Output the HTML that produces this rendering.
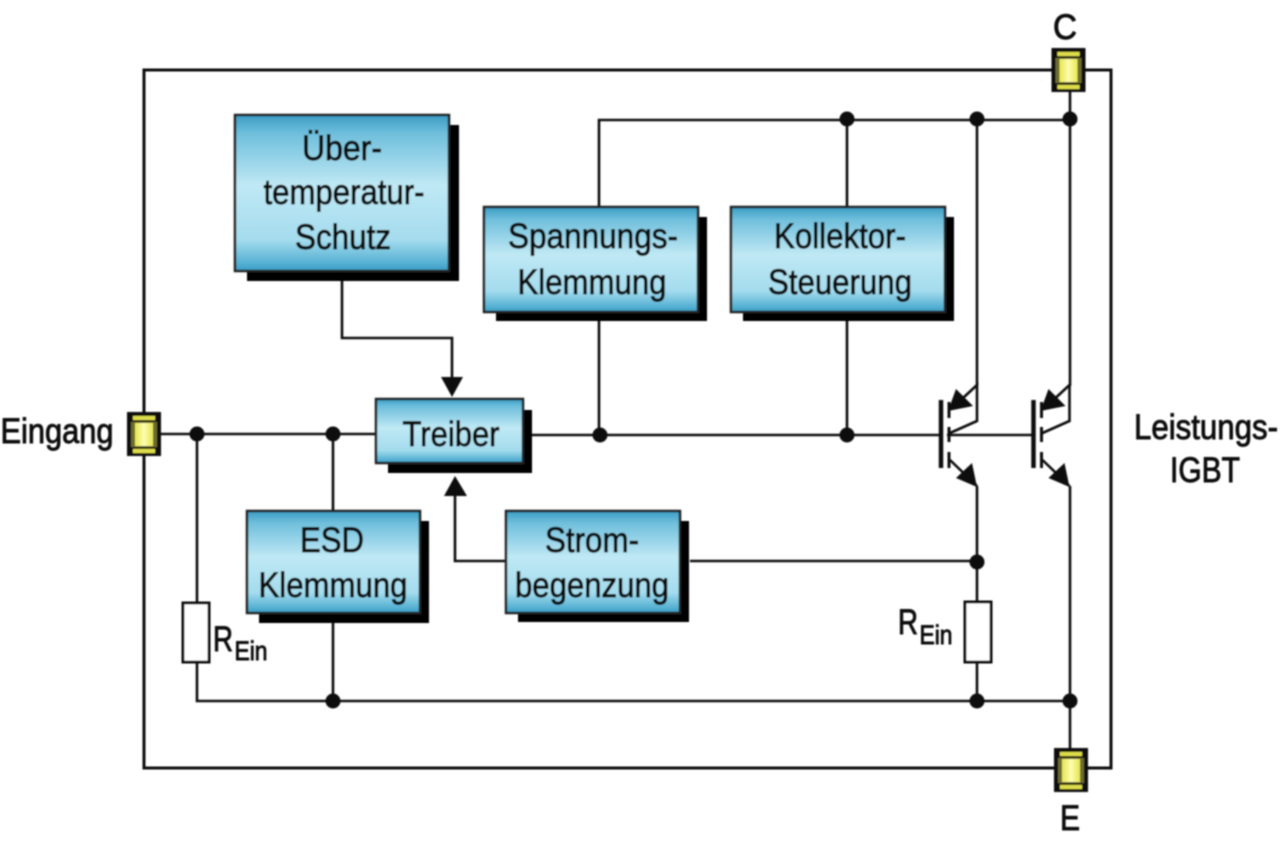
<!DOCTYPE html>
<html><head><meta charset="utf-8"><style>
html,body{margin:0;padding:0;background:#fff;width:1280px;height:844px;overflow:hidden}
svg{display:block}
text{font-family:"Liberation Sans",sans-serif;font-size:35px;fill:#111;stroke:#111;stroke-width:0.9px;text-anchor:middle}
</style></head><body>
<svg width="1280" height="844" viewBox="0 0 1280 844" xmlns="http://www.w3.org/2000/svg">
<defs>
<linearGradient id="g" x1="0" y1="0" x2="0" y2="1">
<stop offset="0" stop-color="#3a9cc4"/><stop offset="0.12" stop-color="#6fbfdc"/><stop offset="0.45" stop-color="#bfe8f4"/><stop offset="0.8" stop-color="#a4dcee"/><stop offset="0.95" stop-color="#55b0d2"/><stop offset="1" stop-color="#3a9cc4"/>
</linearGradient>
<linearGradient id="y" x1="0" y1="0" x2="1" y2="0">
<stop offset="0" stop-color="#e6e650"/><stop offset="0.5" stop-color="#fdfdb0"/><stop offset="1" stop-color="#e6e650"/>
</linearGradient>
<filter id="b" x="-5%" y="-5%" width="110%" height="110%"><feGaussianBlur stdDeviation="0.75"/></filter>
<g id="pad">
<rect x="-17" y="-22" width="34" height="44" fill="#111"/>
<rect x="-13" y="-12" width="26" height="25" fill="#6b6b30"/>
<rect x="-11" y="-18" width="22" height="4" fill="#dede4c"/>
<rect x="-11" y="15" width="22" height="4" fill="#dede4c"/>
<rect x="-9" y="-11" width="18" height="23" fill="url(#y)"/>
</g>
<g id="igbt">
<path d="M0 -35V33" stroke="#111" stroke-width="4.5" fill="none"/>
<path d="M8 -33V-17M8 -8V7M8 17V33" stroke="#111" stroke-width="3" fill="none"/>
<path d="M9 -2L36 -14V-50L22 -37M9 25L36 51" stroke="#111" stroke-width="2.6" fill="none"/>
<path d="M7 -24L32 -29L15 -46Z" fill="#111"/>
<path d="M36 52L15 43L31 28Z" fill="#111"/>
</g>
</defs>
<g filter="url(#b)">
<g fill="none" stroke="#111" stroke-width="3">
<path d="M1111 70H144V768H1111Z"/>
</g>
<g fill="none" stroke="#111" stroke-width="2.6">
<path d="M160 434H376M528 435H940"/>
<path d="M197 434V603M197 662V701H1070"/>
<path d="M333 434V511M333 620V701"/>
<path d="M599 207V120H1070M599 318V435"/>
<path d="M847 120V207M847 318V435"/>
<path d="M977 120V386"/>
<path d="M1070 92V386"/>
<path d="M977 486V601M977 662V701"/>
<path d="M1070 486V750"/>
<path d="M690 561H977"/>
<path d="M506 561H455V495"/>
<path d="M342 281V338H452V378"/>
<path d="M947 435H1032"/>
</g>
<path d="M441 377H463L452 397Z" fill="#111"/>
<path d="M444 496H467L455 476Z" fill="#111"/>
<g fill="#111">
<circle cx="197" cy="434" r="7.5"/><circle cx="333" cy="434" r="7.5"/><circle cx="600" cy="435" r="7.5"/><circle cx="847" cy="435" r="7.5"/>
<circle cx="847" cy="119" r="7.5"/><circle cx="977" cy="119" r="7.5"/><circle cx="1070" cy="119" r="7.5"/>
<circle cx="977" cy="562" r="7.5"/><circle cx="333" cy="701" r="7.5"/><circle cx="977" cy="701" r="7.5"/><circle cx="1070" cy="701" r="7.5"/>
</g>
<g fill="#fff" stroke="#111" stroke-width="3">
<rect x="183" y="603" width="26" height="59"/>
<rect x="965" y="602" width="26" height="60"/>
</g>
<use href="#igbt" x="941" y="435"/>
<use href="#igbt" x="1033.5" y="435"/>
<use href="#pad" x="1068.5" y="70"/>
<use href="#pad" x="144" y="434"/>
<use href="#pad" x="1071" y="770"/>
<g fill="#000">
<rect x="247" y="125" width="212" height="156"/>
<rect x="496" y="217" width="211" height="104"/>
<rect x="743" y="217" width="211" height="104"/>
<rect x="388" y="410" width="144" height="63"/>
<rect x="259" y="521" width="170" height="102"/>
<rect x="518" y="521" width="171" height="101"/>
</g>
<g fill="url(#g)" stroke="#222" stroke-width="2.5">
<rect x="235" y="115" width="214" height="156"/>
<rect x="484" y="207" width="214" height="105"/>
<rect x="731" y="207" width="214" height="105"/>
<rect x="376" y="399" width="147" height="64"/>
<rect x="247" y="511" width="173" height="102"/>
<rect x="506" y="511" width="174" height="102"/>
</g>
<text x="342" y="160" textLength="80" lengthAdjust="spacingAndGlyphs">Über-</text>
<text x="344" y="204" textLength="161" lengthAdjust="spacingAndGlyphs">temperatur-</text>
<text x="343" y="249" textLength="96" lengthAdjust="spacingAndGlyphs">Schutz</text>
<text x="593" y="248" textLength="170" lengthAdjust="spacingAndGlyphs">Spannungs-</text>
<text x="592" y="294" textLength="149" lengthAdjust="spacingAndGlyphs">Klemmung</text>
<text x="840" y="248" textLength="132" lengthAdjust="spacingAndGlyphs">Kollektor-</text>
<text x="840" y="294" textLength="144" lengthAdjust="spacingAndGlyphs">Steuerung</text>
<text x="451" y="446" textLength="97" lengthAdjust="spacingAndGlyphs">Treiber</text>
<text x="332" y="552" textLength="64" lengthAdjust="spacingAndGlyphs">ESD</text>
<text x="333" y="597" textLength="149" lengthAdjust="spacingAndGlyphs">Klemmung</text>
<text x="592" y="552" textLength="94" lengthAdjust="spacingAndGlyphs">Strom-</text>
<text x="592" y="597" textLength="154" lengthAdjust="spacingAndGlyphs">begenzung</text>
<text x="57" y="443" textLength="113" lengthAdjust="spacingAndGlyphs">Eingang</text>
<text x="1065" y="39" textLength="24" lengthAdjust="spacingAndGlyphs">C</text>
<text x="1070" y="830" textLength="20" lengthAdjust="spacingAndGlyphs">E</text>
<text x="1206" y="439" textLength="144" lengthAdjust="spacingAndGlyphs">Leistungs-</text>
<text x="1205" y="482" textLength="70" lengthAdjust="spacingAndGlyphs">IGBT</text>
<text x="223" y="651" textLength="20" lengthAdjust="spacingAndGlyphs">R</text>
<text x="251" y="660" style="font-size:27px" textLength="33" lengthAdjust="spacingAndGlyphs">Ein</text>
<text x="908" y="634" textLength="20" lengthAdjust="spacingAndGlyphs">R</text>
<text x="936" y="644" style="font-size:27px" textLength="33" lengthAdjust="spacingAndGlyphs">Ein</text>
</g>
</svg>
</body></html>
